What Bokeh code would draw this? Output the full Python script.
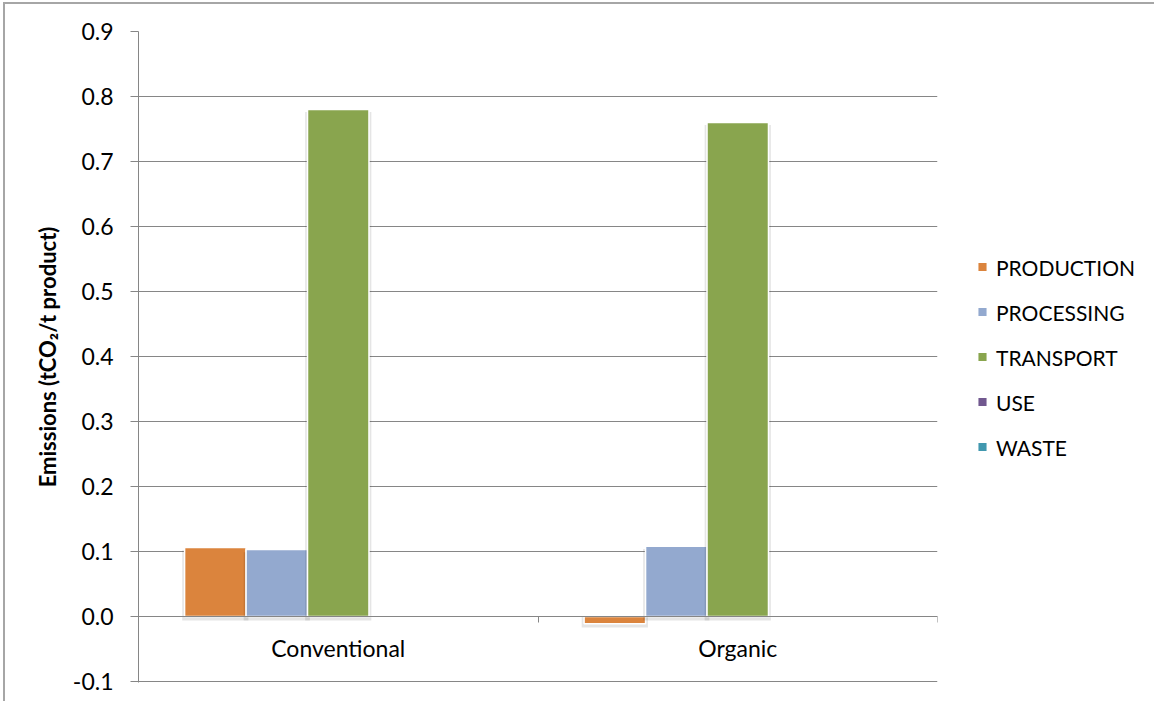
from bokeh.plotting import figure
from bokeh.models import Range1d, FixedTicker, Legend, LegendItem, LinearAxis, NumeralTickFormatter
from bokeh.embed import file_html
from bokeh.resources import INLINE

# ---- data ----
categories = ["Conventional", "Organic"]
series = ["PRODUCTION", "PROCESSING", "TRANSPORT", "USE", "WASTE"]
production = [0.106, -0.011]
processing = [0.103, 0.108]
transport = [0.780, 0.760]
use = [0.0, 0.0]
waste = [0.0, 0.0]
values = [production, processing, transport, use, waste]
colors = ["#DB843D", "#93A9CF", "#89A54E", "#71588F", "#4198AF"]
y_ticks = [-0.1, 0.0, 0.1, 0.2, 0.3, 0.4, 0.5, 0.6, 0.7, 0.8, 0.9]
y_title = "Emissions (tCO\u2082/t product)"

FONT = "Lato"
GRID = "#868686"

p = figure(
    frame_width=799, frame_height=651,
    min_border_left=133, min_border_top=27, min_border_bottom=19, min_border_right=215,
    x_range=Range1d(0, len(categories)), y_range=Range1d(y_ticks[0] - 0.0015, y_ticks[-1]),
    x_axis_type=None, output_backend="svg", toolbar_location=None,
    background_fill_color="white", border_fill_color="white",
)
p.styles = {"margin-left": "3px", "margin-top": "2px",
            "border-left": "2px solid #A6A6A6", "border-top": "2px solid #A6A6A6"}
p.outline_line_color = None

# y axis
ya = p.yaxis[0]
ya.ticker = FixedTicker(ticks=y_ticks)
ya.formatter = NumeralTickFormatter(format="0.0")
ya.axis_line_color = GRID
ya.major_tick_line_color = GRID
ya.major_tick_out = 8
ya.major_tick_in = 0
ya.minor_tick_line_color = None
ya.major_label_standoff = 17
ya.major_label_text_font = FONT
ya.major_label_text_font_size = "23px"
ya.major_label_text_color = "black"
ya.axis_label = y_title
ya.axis_label_text_font = FONT
ya.axis_label_text_font_size = "22px"
ya.axis_label_text_font_style = "bold"
ya.axis_label_text_color = "black"
ya.axis_label_standoff = 9

p.ygrid.ticker = FixedTicker(ticks=y_ticks)
p.ygrid.grid_line_color = GRID
p.xgrid.grid_line_color = None

# category axis crossing at y = 0: labels at category centres, tick marks at boundaries
centres = [i + 0.5 for i in range(len(categories))]
bounds = list(range(len(categories) + 1))
xa = LinearAxis(ticker=FixedTicker(ticks=centres, minor_ticks=bounds), fixed_location=0)
xa.major_label_overrides = {c: name for c, name in zip(centres, categories)}
xa.axis_line_color = GRID
xa.major_tick_line_color = None
xa.major_tick_out = 0
xa.major_tick_in = 0
xa.minor_tick_line_color = GRID
xa.minor_tick_out = 6
xa.minor_tick_in = 0
xa.major_label_standoff = 11
xa.major_label_text_font = FONT
xa.major_label_text_font_size = "23px"
xa.major_label_text_color = "black"
p.add_layout(xa, "below")

# bars
n = len(series)
bw = 1.0 / (n + 1.5)
items = []
for k, (name, vals, col) in enumerate(zip(series, values, colors)):
    xs = [i + 0.5 + (k - (n - 1) / 2) * bw for i in range(len(categories))]
    # soft shadow
    p.vbar(x=xs, top=[v - 0.004 if v > 0 else v - 0.006 for v in vals],
           bottom=[-0.006 if v > 0 else 0 for v in vals], width=bw + 0.012,
           fill_color="#000000", fill_alpha=0.10 if any(vals) else 0, line_color=None)
    r = p.vbar(x=xs, top=vals, bottom=0, width=bw, fill_color=col,
               line_color="white", line_width=1.5)
    items.append(LegendItem(label=name, renderers=[r]))

legend = Legend(items=items, location="left")
legend.border_line_color = None
legend.background_fill_alpha = 0
legend.label_text_font = FONT
legend.label_text_font_size = "21px"
legend.label_text_color = "black"
legend.glyph_width = 12
legend.glyph_height = 12
legend.label_standoff = 8
legend.label_height = 20
legend.spacing = 20
legend.padding = 0
legend.margin = 39
p.add_layout(legend, "right")

open("out.html", "w").write(file_html(p, INLINE))
